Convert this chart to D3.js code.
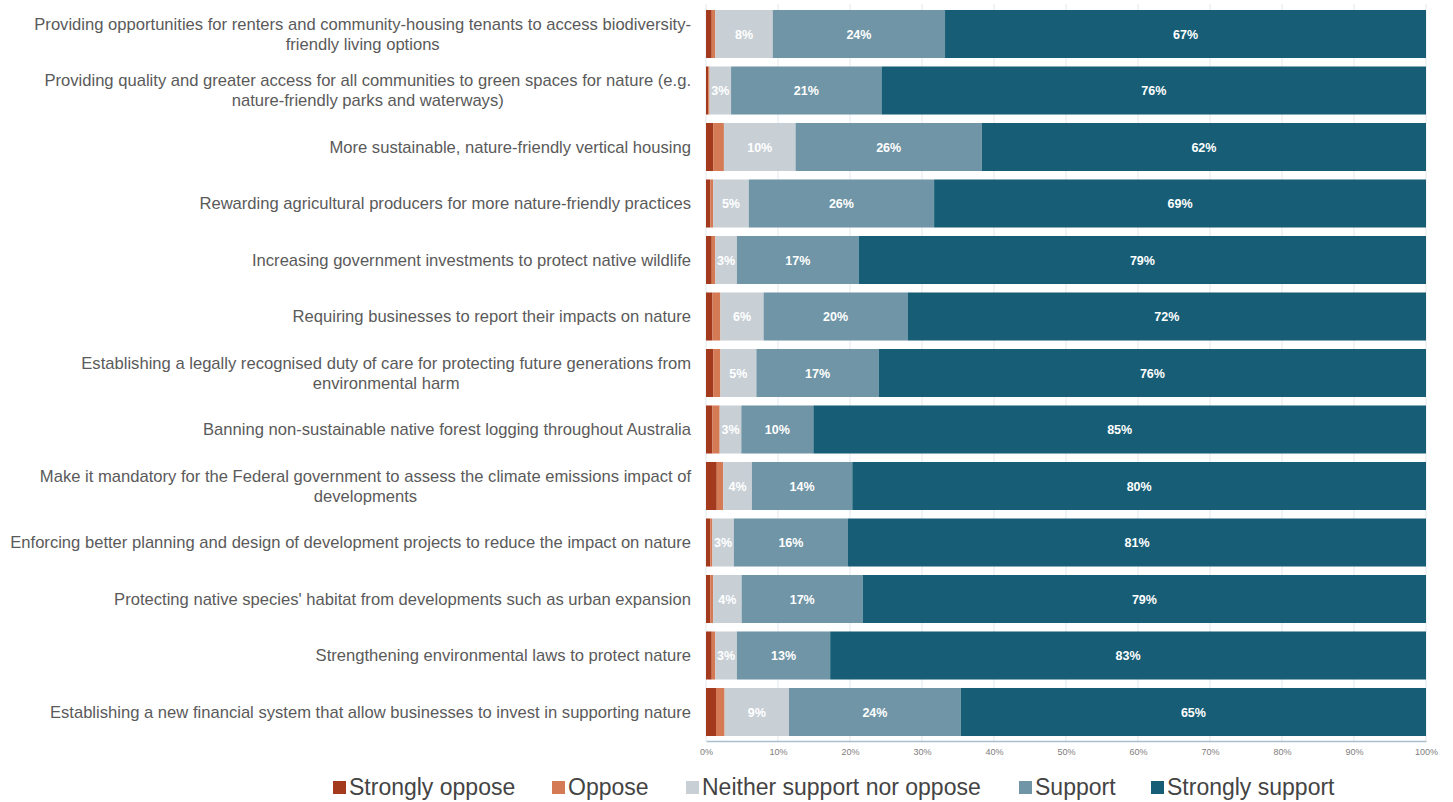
<!DOCTYPE html>
<html>
<head>
<meta charset="utf-8">
<script src="https://cdn.jsdelivr.net/npm/d3@7"></script>
<style>
  html, body { margin: 0; padding: 0; background: #ffffff; }
  svg { display: block; }
</style>
</head>
<body>
<svg id="chart" width="1453" height="802"></svg>
<script>
// Survey statements (line breaks mark where each label wraps)
const categories = [
  "Providing opportunities for renters and community-housing tenants to access biodiversity-\nfriendly living options",
  "Providing quality and greater access for all communities to green spaces for nature (e.g.\nnature-friendly parks and waterways)",
  "More sustainable, nature-friendly vertical housing",
  "Rewarding agricultural producers for more nature-friendly practices",
  "Increasing government investments to protect native wildlife",
  "Requiring businesses to report their impacts on nature",
  "Establishing a legally recognised duty of care for protecting future generations from\nenvironmental harm",
  "Banning non-sustainable native forest logging throughout Australia",
  "Make it mandatory for the Federal government to assess the climate emissions impact of\ndevelopments",
  "Enforcing better planning and design of development projects to reduce the impact on nature",
  "Protecting native species' habitat from developments such as urban expansion",
  "Strengthening environmental laws to protect nature",
  "Establishing a new financial system that allow businesses to invest in supporting nature"
];

// Response shares (%) per statement
const stronglyOppose  = [0.8, 0.3, 1.0, 0.6, 0.8, 0.9, 1.0, 0.9, 1.5, 0.6, 0.6, 0.8, 1.4];
const oppose          = [0.5, 0.2, 1.5, 0.4, 0.5, 1.1, 1.0, 1.0, 0.9, 0.3, 0.4, 0.5, 1.2];
const neither         = [8, 3, 10, 5, 3, 6, 5, 3, 4, 3, 4, 3, 9];
const support         = [24, 21, 26, 26, 17, 20, 17, 10, 14, 16, 17, 13, 24];
const stronglySupport = [67, 76, 62, 69, 79, 72, 76, 85, 80, 81, 79, 83, 65];

const seriesNames = ["Strongly oppose", "Oppose", "Neither support nor oppose", "Support", "Strongly support"];
const seriesValues = [stronglyOppose, oppose, neither, support, stronglySupport];
const labelledSeries = ["Neither support nor oppose", "Support", "Strongly support"];

const tickValues = [0, 0.1, 0.2, 0.3, 0.4, 0.5, 0.6, 0.7, 0.8, 0.9, 1.0];

const colors = ["#a3391d", "#d47a55", "#c8d0d6", "#6f95a6", "#165d75"];

// Build rows for the stack
const rows = categories.map((c, i) => {
  const r = { category: c };
  seriesNames.forEach((s, k) => { r[s] = seriesValues[k][i]; });
  return r;
});

const stack = d3.stack().keys(seriesNames).offset(d3.stackOffsetExpand);
const layers = stack(rows);

const svg = d3.select("#chart");

const x = d3.scaleLinear().domain([0, 1]).range([706, 1426]);
const y = d3.scaleBand()
  .domain(categories)
  .range([5.75, 740.25])
  .paddingInner(0.15)
  .paddingOuter(0.075);
const color = d3.scaleOrdinal().domain(seriesNames).range(colors);

// Vertical gridlines behind the bars
svg.append("g")
  .selectAll("line")
  .data(tickValues)
  .join("line")
  .attr("x1", d => x(d)).attr("x2", d => x(d))
  .attr("y1", 4).attr("y2", 741)
  .attr("stroke", "#e3e8ec")
  .attr("stroke-width", 1);

// Stacked bars
const layerG = svg.append("g")
  .selectAll("g")
  .data(layers)
  .join("g")
  .attr("fill", d => color(d.key));

layerG.selectAll("rect")
  .data(d => d)
  .join("rect")
  .attr("x", d => x(d[0]))
  .attr("y", d => y(d.data.category))
  .attr("width", d => Math.max(0, x(d[1]) - x(d[0])))
  .attr("height", y.bandwidth());

// Value labels
const labelG = svg.append("g")
  .attr("font-family", "'Liberation Sans', Arial, sans-serif")
  .attr("font-size", 12.5)
  .attr("font-weight", "bold")
  .attr("fill", "#ffffff")
  .attr("text-anchor", "middle");

layers.filter(l => labelledSeries.includes(l.key)).forEach(l => {
  labelG.selectAll(null)
    .data(l)
    .join("text")
    .attr("x", d => (x(d[0]) + x(d[1])) / 2)
    .attr("y", d => y(d.data.category) + y.bandwidth() / 2)
    .attr("dy", "0.36em")
    .text(d => d3.format(".0f")(d.data[l.key]) + "%");
});

// Bottom axis
const xAxis = d3.axisBottom(x)
  .tickValues(tickValues)
  .tickFormat(d3.format(".0%"))
  .tickSize(0)
  .tickPadding(8);

const axisG = svg.append("g")
  .attr("transform", "translate(0,741)")
  .call(xAxis);
axisG.select(".domain").attr("stroke", "#a9c0cc").attr("stroke-width", 1.5);
axisG.selectAll("text")
  .attr("font-family", "'Liberation Sans', Arial, sans-serif")
  .attr("font-size", 9)
  .attr("fill", "#7e7e7e");

// Category labels: right-aligned block, lines centred within it
const catG = svg.append("g")
  .attr("font-family", "'Liberation Sans', Arial, sans-serif")
  .attr("font-size", 16.6)
  .attr("fill", "#5a5a5a");

const labelRight = 691;
const lineHeight = 20;
categories.forEach(c => {
  const lines = c.split("\n");
  const cy = y(c) + y.bandwidth() / 2;
  const g = catG.append("g");
  const texts = lines.map((ln, i) =>
    g.append("text")
      .attr("y", cy + (i - (lines.length - 1) / 2) * lineHeight)
      .attr("dy", "0.35em")
      .attr("text-anchor", "middle")
      .text(ln)
  );
  const w = d3.max(texts, t => t.node().getComputedTextLength());
  texts.forEach(t => t.attr("x", labelRight - w / 2));
});

// Legend
const legendG = svg.append("g")
  .attr("font-family", "'Liberation Sans', Arial, sans-serif")
  .attr("font-size", 23)
  .attr("fill", "#444444");

const legendX = [333, 552, 686, 1019, 1151];
seriesNames.forEach((s, i) => {
  const g = legendG.append("g").attr("transform", `translate(${legendX[i]},795)`);
  g.append("rect")
    .attr("x", 0).attr("y", -14)
    .attr("width", 13).attr("height", 13)
    .attr("fill", color(s));
  g.append("text")
    .attr("x", 16)
    .attr("y", 0)
    .text(s);
});
</script>
</body>
</html>
